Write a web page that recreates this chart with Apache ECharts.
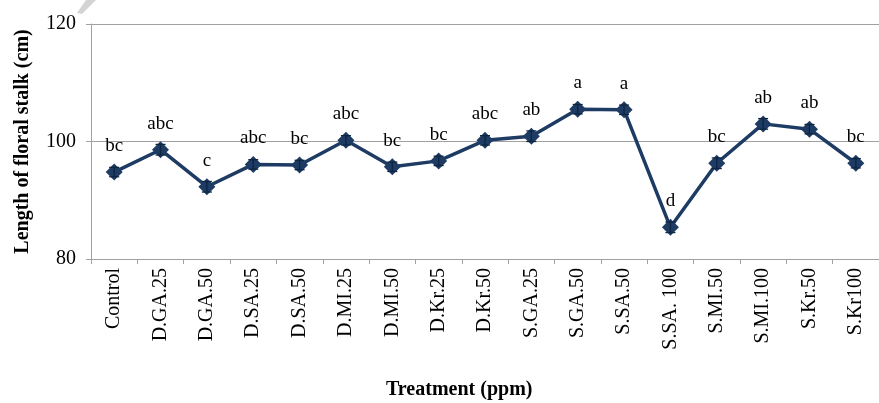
<!DOCTYPE html>
<html><head><meta charset="utf-8">
<script src="https://cdn.jsdelivr.net/npm/echarts@6/dist/echarts.min.js"></script>
<style>html,body{margin:0;padding:0;background:#fff}#c{width:879px;height:403px}</style>
</head><body><div id="c"></div>
<script>
const categories = ['Control','D.GA.25','D.GA.50','D.SA.25','D.SA.50','D.MI.25','D.MI.50','D.Kr.25','D.Kr.50','S.GA.25','S.GA.50','S.SA.50','S.SA. 100','S.MI.50','S.MI.100','S.Kr.50','S.Kr100'];
const values = [94.8, 98.6, 92.3, 96.1, 96.0, 100.2, 95.7, 96.7, 100.2, 100.9, 105.5, 105.4, 85.4, 96.3, 103.0, 102.1, 96.3];
const errors = [0.8, 0.9, 0.9, 0.8, 0.8, 0.8, 0.8, 0.8, 0.8, 0.9, 0.8, 0.8, 0.9, 0.9, 0.9, 0.8, 0.8];
const letters = ['bc','abc','c','abc','bc','abc','bc','bc','abc','ab','a','a','d','bc','ab','ab','bc'];
const yTicks = [80, 100, 120];

const serif = '"Liberation Serif","Times New Roman",serif';
const navy = '#1d3b63';
const chart = echarts.init(document.getElementById('c'));
chart.setOption({
  animation: false,
  title: {
    text: 'Treatment (ppm)', left: 386, top: 380,
    padding: 0,
    textStyle: {fontFamily: serif, fontSize: 20, fontWeight: 'bold', color: '#000'}
  },
  graphic: [{
    type: 'polygon', silent: true,
    shape: {points: [[77, 13], [82, 14], [96, 0], [86, 0]]},
    style: {fill: '#d4d4d4'}
  }],
  grid: {left: 91, right: 0, top: 24, bottom: 144, outerBoundsMode: 'none', containLabel: false},
  xAxis: {
    type: 'category', data: categories, boundaryGap: true,
    axisLine: {lineStyle: {color: '#a0a0a0'}},
    axisTick: {show: true, length: 5, lineStyle: {color: '#a0a0a0'}},
    axisLabel: {rotate: 90, color: '#000', fontFamily: serif, fontSize: 20, margin: 9}
  },
  yAxis: {
    type: 'value', min: 80, max: 120, interval: 20,
    axisLine: {show: true, lineStyle: {color: '#a0a0a0'}},
    axisTick: {show: true, length: 5, lineStyle: {color: '#a0a0a0'}},
    splitLine: {lineStyle: {color: '#a0a0a0'}},
    axisLabel: {color: '#000', fontFamily: serif, fontSize: 20, margin: 15,
      formatter: v => yTicks.includes(v) ? String(v) : ''},
    name: 'Length of floral stalk (cm)', nameLocation: 'middle', nameGap: 58,
    nameTextStyle: {fontFamily: serif, fontSize: 20, fontWeight: 'bold', color: '#000'}
  },
  series: [
    {
      type: 'line', data: values, symbol: 'diamond', symbolSize: 17,
      lineStyle: {color: navy, width: 3.5}, itemStyle: {color: navy},
      label: {show: true, position: 'top', distance: 8, fontFamily: serif, fontSize: 19, color: '#000',
        formatter: p => letters[p.dataIndex]},
      z: 3
    },
    {
      type: 'custom', z: 4,
      data: values.map((v, i) => [i, v - errors[i], v + errors[i]]),
      renderItem: (params, api) => {
        const lo = api.coord([api.value(0), api.value(1)]);
        const hi = api.coord([api.value(0), api.value(2)]);
        const w = 5;
        const st = {stroke: '#0d2540', lineWidth: 1.3};
        return {type: 'group', children: [
          {type: 'line', shape: {x1: lo[0], y1: lo[1], x2: hi[0], y2: hi[1]}, style: st},
          {type: 'line', shape: {x1: lo[0]-w, y1: lo[1], x2: lo[0]+w, y2: lo[1]}, style: st},
          {type: 'line', shape: {x1: hi[0]-w, y1: hi[1], x2: hi[0]+w, y2: hi[1]}, style: st}
        ]};
      }
    }
  ]
});
</script></body></html>
